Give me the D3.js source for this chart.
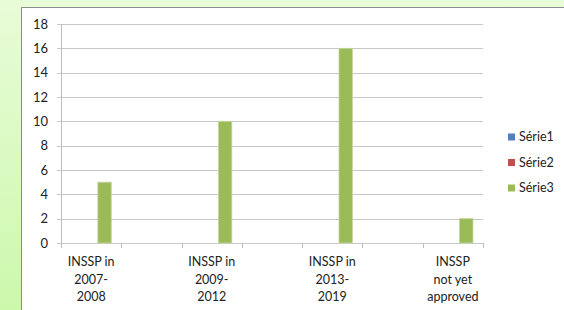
<!DOCTYPE html>
<html>
<head>
<meta charset="utf-8">
<script src="https://cdn.jsdelivr.net/npm/d3@7"></script>
<style>
  body { margin: 0; padding: 0; }
  svg { display: block; font-family: Lato, "Open Sans", sans-serif; }
</style>
</head>
<body>
<script>
var width = 564;
var height = 310;

// 7 category slots, the odd ones are empty in the original
var categories = [
  ["INSSP in", "2007-", "2008"],
  [],
  ["INSSP in", "2009-", "2012"],
  [],
  ["INSSP in", "2013-", "2019"],
  [],
  ["INSSP", "not yet", "approved"]
];
var series = ["Série1", "Série2", "Série3"];
var serie1 = [null, null, null, null, null, null, null];
var serie2 = [null, null, null, null, null, null, null];
var serie3 = [5, null, 10, null, 16, null, 2];
var yTicks = [0, 2, 4, 6, 8, 10, 12, 14, 16, 18];
var colors = ["#4f81bd", "#c0504d", "#9bbb59"];

var margin = {top: 24, left: 61, right: 81, bottom: 67};

var svg = d3.select("body")
    .append("svg")
    .attr("width", width)
    .attr("height", height);

var defs = svg.append("defs");
var grad = defs.append("linearGradient")
    .attr("id", "bg")
    .attr("x1", 0).attr("y1", 0).attr("x2", 0).attr("y2", 1);
grad.append("stop").attr("offset", "0%").attr("stop-color", "#e8fcd8");
grad.append("stop").attr("offset", "100%").attr("stop-color", "#ccf8ac");

svg.append("rect")
    .attr("width", width)
    .attr("height", height)
    .attr("fill", "url(#bg)");

// chart area with a little shadow
svg.append("rect")
    .attr("x", 23).attr("y", 9)
    .attr("width", width).attr("height", height)
    .attr("fill", "#a0a0a0");
svg.append("rect")
    .attr("x", 21.5).attr("y", 7.5)
    .attr("width", width).attr("height", height)
    .attr("fill", "#fff")
    .attr("stroke", "#8c8c8c");

var keys = categories.map(function(d, i) { return "c" + i; });

var xScale = d3.scaleBand()
  .domain(keys)
  .range([margin.left, width - margin.right]);

var xInner = d3.scaleBand()
  .domain(series)
  .range([0, xScale.bandwidth()])
  .paddingOuter(0.75);

var yScale = d3.scaleLinear()
  .domain([0, 18])
  .range([height - margin.bottom, margin.top]);

// gridlines
svg.append("g")
  .selectAll("line")
  .data(yTicks)
  .enter()
  .append("line")
    .attr("x1", margin.left - 4)
    .attr("x2", width - margin.right)
    .attr("y1", function(d) { return Math.round(yScale(d)) + 0.5; })
    .attr("y2", function(d) { return Math.round(yScale(d)) + 0.5; })
    .attr("stroke", "#c8c8c8")
    .attr("stroke-width", 1.2);

// y labels
svg.append("g")
  .selectAll("text")
  .data(yTicks)
  .enter()
  .append("text")
    .attr("x", 48)
    .attr("y", function(d) { return yScale(d); })
    .attr("dy", "0.35em")
    .attr("text-anchor", "end")
    .attr("font-size", 13)
    .attr("fill", "#222")
    .text(function(d) { return d; });

// y axis line
svg.append("line")
    .attr("x1", margin.left + 0.5).attr("x2", margin.left + 0.5)
    .attr("y1", margin.top).attr("y2", yScale(0) + 4)
    .attr("stroke", "#bdbdbd");

// x ticks
var xTickPos = keys.map(function(k) { return xScale(k); }).concat([width - margin.right]);
svg.append("g")
  .selectAll("line")
  .data(xTickPos)
  .enter()
  .append("line")
    .attr("x1", function(d) { return Math.round(d) + 0.5; })
    .attr("x2", function(d) { return Math.round(d) + 0.5; })
    .attr("y1", yScale(0))
    .attr("y2", yScale(0) + 5)
    .attr("stroke", "#bdbdbd");

// bars
var allSeries = [serie1, serie2, serie3];
allSeries.forEach(function(vals, s) {
  svg.append("g")
    .selectAll("rect")
    .data(vals.map(function(v, i) { return {k: keys[i], v: v}; }).filter(function(d) { return d.v != null; }))
    .enter()
    .append("rect")
      .attr("x", function(d) { return xScale(d.k) + xInner(series[s]); })
      .attr("y", function(d) { return yScale(d.v); })
      .attr("width", xInner.bandwidth())
      .attr("height", function(d) { return yScale(0) - yScale(d.v); })
      .attr("fill", colors[s])
      .attr("stroke", "#c3d69b")
      .attr("stroke-width", 0.8);
});

// x labels
var labels = svg.append("g")
  .selectAll("text")
  .data(categories)
  .enter()
  .append("text")
    .attr("x", function(d, i) { return xScale(keys[i]) + xScale.bandwidth() / 2; })
    .attr("y", 266)
    .attr("text-anchor", "middle")
    .attr("font-size", 12.5)
    .attr("fill", "#222");
labels.selectAll("tspan")
  .data(function(d) { return d; })
  .enter()
  .append("tspan")
    .attr("x", function() { return d3.select(this.parentNode).attr("x"); })
    .attr("dy", function(d, i) { return i === 0 ? 0 : 17.5; })
    .text(function(d) { return d; });

// legend
var legend = svg.append("g")
  .selectAll("g")
  .data(series)
  .enter()
  .append("g")
    .attr("transform", function(d, i) { return "translate(508," + (137 + i * 25.5) + ")"; });
legend.append("rect")
    .attr("x", 0).attr("y", -3.5)
    .attr("width", 7).attr("height", 7)
    .attr("fill", function(d, i) { return colors[i]; });
legend.append("text")
    .attr("x", 11)
    .attr("dy", "0.35em")
    .attr("font-size", 12.5)
    .attr("fill", "#222")
    .text(function(d) { return d; });
</script>
</body>
</html>
